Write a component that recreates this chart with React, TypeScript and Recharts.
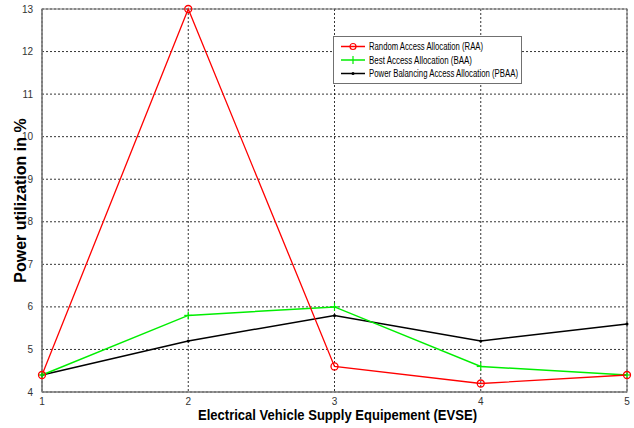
import React from 'react';
import { LineChart, Line, XAxis, YAxis, CartesianGrid, Legend, ReferenceArea } from 'recharts';

const evse = [1, 2, 3, 4, 5];
const raa = [4.4, 13, 4.6, 4.2, 4.4];
const baa = [4.4, 5.8, 6.0, 4.6, 4.4];
const pbaa = [4.4, 5.2, 5.8, 5.2, 5.6];
const yTicks = [4, 5, 6, 7, 8, 9, 10, 11, 12, 13];

const names = {
  raa: 'Random Access Allocation (RAA)',
  baa: 'Best Access Allocation (BAA)',
  pbaa: 'Power Balancing Access Allocation (PBAA)',
};

const data = evse.map((x, i) => ({ x, raa: raa[i], baa: baa[i], pbaa: pbaa[i] }));

const font = '"Liberation Sans", Arial, sans-serif';
const RED = '#ff0000';
const GREEN = '#00ee00';

const Circle = (props: any) => {
  const { cx, cy } = props;
  if (cx == null || cy == null) return null;
  return <circle cx={cx} cy={cy} r={3.5} fill="none" stroke={RED} strokeWidth={1.3} />;
};

const Plus = (props: any) => {
  const { cx, cy } = props;
  if (cx == null || cy == null) return null;
  return (
    <g stroke={GREEN} strokeWidth={1.2}>
      <line x1={cx - 4} y1={cy} x2={cx + 4} y2={cy} />
      <line x1={cx} y1={cy - 4} x2={cx} y2={cy + 4} />
    </g>
  );
};

const Point = (props: any) => {
  const { cx, cy } = props;
  if (cx == null || cy == null) return null;
  return <circle cx={cx} cy={cy} r={1.5} fill="#000" />;
};

// legend rows: text squeezed to the narrow look of the original
const legendRows = [
  { name: names.raa, color: RED, mark: 'o', len: 114 },
  { name: names.baa, color: GREEN, mark: '+', len: 103 },
  { name: names.pbaa, color: '#000', mark: '.', len: 149 },
];

const LegendBox = () => (
  <svg width={240} height={48} style={{ display: 'block', overflow: 'visible' }}>
    <rect x={0.5} y={0.5} width={188} height={47} fill="#fff" stroke="#707070" />
    {legendRows.map((r, i) => {
      const y = 10.5 + i * 13.5;
      return (
        <g key={r.name}>
          <line x1={8} y1={y} x2={32} y2={y} stroke={r.color} strokeWidth={1.5} />
          {r.mark === 'o' && <circle cx={20} cy={y} r={3} fill="none" stroke={r.color} strokeWidth={1.2} />}
          {r.mark === '+' && <line x1={20} y1={y - 4} x2={20} y2={y + 4} stroke={r.color} strokeWidth={1.2} />}
          {r.mark === '.' && <circle cx={20} cy={y} r={1.5} fill={r.color} />}
          <text
            x={36}
            y={y + 3.5}
            fontSize={10}
            fontFamily={font}
            fill="#000"
            textLength={r.len}
            lengthAdjust="spacingAndGlyphs"
          >
            {r.name}
          </text>
        </g>
      );
    })}
  </svg>
);

const XLabel = (props: any) => {
  const { viewBox } = props;
  const cx = viewBox.x + viewBox.width / 2 + 3;
  return (
    <text
      x={cx}
      y={viewBox.y + 28}
      textAnchor="middle"
      fontSize={15}
      fontWeight="bold"
      fontFamily={font}
      fill="#000"
      textLength={279}
      lengthAdjust="spacingAndGlyphs"
    >
      Electrical Vehicle Supply Equipement (EVSE)
    </text>
  );
};

export default function App() {
  return (
    <div style={{ position: 'fixed', left: 0, top: 0, width: 634, height: 428, background: '#fff' }}>
      <LineChart width={634} height={428} data={data} margin={{ top: 9, right: 7, left: 0, bottom: 0 }}>
        <CartesianGrid stroke="#000" strokeDasharray="2 2" strokeWidth={0.8} />
        <ReferenceArea x1={1} x2={5} y1={4} y2={13} fill="none" stroke="#777" strokeWidth={1.2} ifOverflow="visible" />
        <XAxis
          dataKey="x"
          type="number"
          domain={[1, 5]}
          ticks={evse}
          height={36}
          tickLine={false}
          axisLine={{ stroke: '#777' }}
          tickMargin={0}
          tick={{ fontSize: 10, fill: '#333', fontFamily: font }}
          label={<XLabel />}
        />
        <YAxis
          type="number"
          domain={[4, 13]}
          ticks={yTicks}
          width={42}
          interval={0}
          tickLine={false}
          axisLine={{ stroke: '#777' }}
          tickMargin={3}
          tick={{ fontSize: 10, fill: '#333', fontFamily: font }}
          label={{
            value: 'Power utilization in %',
            angle: -90,
            position: 'insideLeft',
            offset: 20,
            style: { fontSize: 16, fontWeight: 'bold', fill: '#000', fontFamily: font, textAnchor: 'middle' },
          }}
        />
        <Legend
          layout="vertical"
          align="center"
          verticalAlign="middle"
          content={() => <LegendBox />}
          wrapperStyle={{ left: 333, top: 36, width: 240 }}
        />
        <Line dataKey="pbaa" name={names.pbaa} stroke="#000" strokeWidth={1.5} dot={<Point />} isAnimationActive={false} />
        <Line dataKey="baa" name={names.baa} stroke={GREEN} strokeWidth={1.5} dot={<Plus />} isAnimationActive={false} />
        <Line dataKey="raa" name={names.raa} stroke={RED} strokeWidth={1.3} dot={<Circle />} isAnimationActive={false} />
      </LineChart>
    </div>
  );
}
